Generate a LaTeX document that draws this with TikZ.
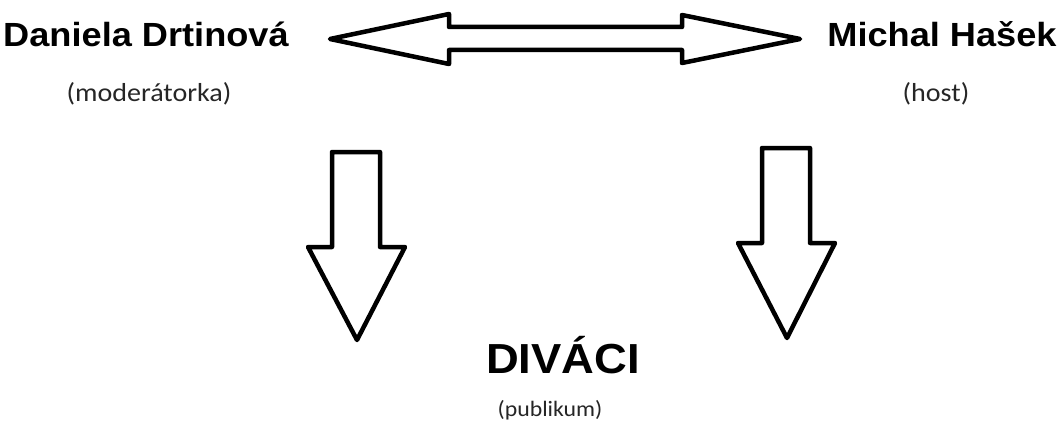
\documentclass[tikz,border=0pt]{standalone}
\usepackage{fontspec}
\usepackage{tikz}
\usepackage{xcolor}
\newfontfamily\headfont{Liberation Sans}
\newfontfamily\rolefont{Carlito}

\begin{document}
\begin{tikzpicture}[x=1pt,y=-1pt,
  every node/.style={inner sep=0pt,anchor=base},
  person/.style={font=\headfont\bfseries\fontsize{33.5}{40}\selectfont},
  role/.style={font=\rolefont\fontsize{26}{30}\selectfont,text=black!85},
  blockarrow/.style={draw=black,line width=4.5pt,line join=round,fill=white}]
\fill[white] (0,0) rectangle (1063,428);
\useasboundingbox (0,0) rectangle (1063,428);
% people
\node[person] (drtinova) at (146,47) {\scalebox{1.08}[1]{Daniela Drtinová}};
\node[role] (moderatorka) at (149,102) {\scalebox{1.08}[1]{(moderátorka)}};
\node[person] (hasek) at (942,47) {\scalebox{1.08}[1]{Michal Hašek}};
\node[role] (host) at (936,102) {\scalebox{1.08}[1]{(host)}};
% audience
\node[person,font=\headfont\bfseries\fontsize{42}{48}\selectfont] (divaci) at (563,373) {\scalebox{1.08}[1]{DIVÁCI}};
\node[role,font=\rolefont\fontsize{22}{26}\selectfont] (publikum) at (550,416) {\scalebox{1.08}[1]{(publikum)}};
% talk between them
\draw[blockarrow] (330,39) -- (449,14) -- (449,27) -- (682,27) -- (682,15) -- (800,39)
  -- (682,63) -- (682,50) -- (449,50) -- (449,64) -- cycle;
% down to the audience
\draw[blockarrow] (332,152) -- (380,152) -- (380,247) -- (405,247) -- (357,340)
  -- (308,247) -- (332,247) -- cycle;
\draw[blockarrow] (762,148) -- (810,148) -- (810,243) -- (835,243) -- (787,338)
  -- (738,243) -- (762,243) -- cycle;
\end{tikzpicture}
\end{document}
